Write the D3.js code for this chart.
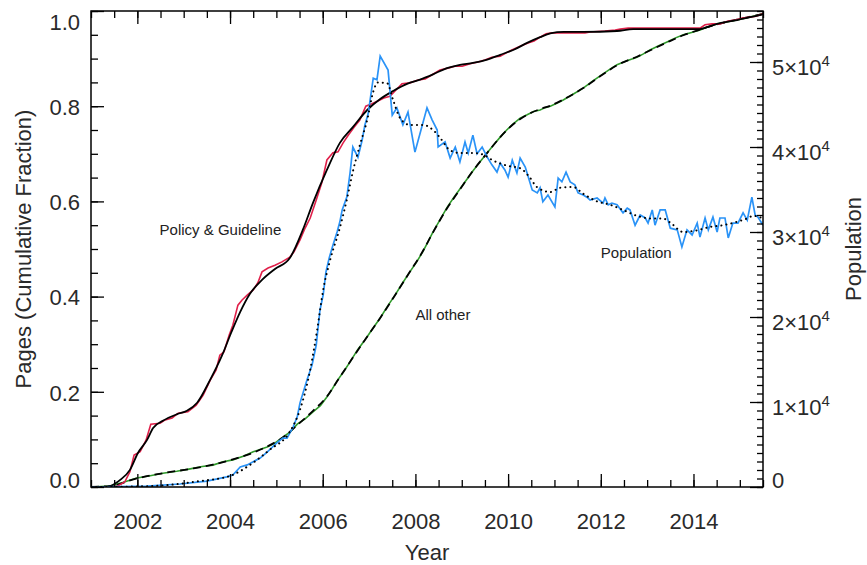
<!DOCTYPE html>
<html><head><meta charset="utf-8">
<script src="https://cdn.jsdelivr.net/npm/d3@7"></script>
<style>
body{margin:0;background:#fff;}
svg{display:block;font-family:"Liberation Sans",Arial,Helvetica,sans-serif;}
</style></head><body>
<svg id="chart" width="867" height="565"></svg>
<script>
// ---- data (year, value) ----
const policyRaw = [[2001.00,0],[2001.41,0],[2001.58,0.002],[2001.73,0.011],[2001.84,0.032],[2001.93,0.067],[2002.06,0.074],[2002.19,0.099],[2002.29,0.132],[2002.49,0.134],[2002.60,0.141],[2002.75,0.145],[2002.88,0.155],[2003.09,0.158],[2003.27,0.172],[2003.42,0.193],[2003.57,0.224],[2003.70,0.246],[2003.78,0.277],[2003.87,0.284],[2003.98,0.319],[2004.06,0.340],[2004.17,0.382],[2004.26,0.393],[2004.37,0.403],[2004.50,0.414],[2004.60,0.429],[2004.69,0.452],[2004.82,0.460],[2004.97,0.466],[2005.12,0.473],[2005.29,0.483],[2005.38,0.494],[2005.51,0.519],[2005.62,0.544],[2005.73,0.565],[2005.86,0.603],[2005.98,0.639],[2006.09,0.687],[2006.22,0.702],[2006.33,0.704],[2006.44,0.723],[2006.55,0.739],[2006.68,0.756],[2006.80,0.771],[2006.93,0.800],[2007.06,0.805],[2007.19,0.811],[2007.32,0.817],[2007.45,0.821],[2007.58,0.834],[2007.71,0.847],[2007.88,0.849],[2008.06,0.855],[2008.21,0.857],[2008.36,0.866],[2008.53,0.876],[2008.70,0.880],[2008.85,0.884],[2009.01,0.884],[2009.18,0.889],[2009.35,0.893],[2009.50,0.897],[2009.65,0.903],[2009.83,0.905],[2009.96,0.912],[2010.08,0.918],[2010.26,0.926],[2010.43,0.933],[2010.56,0.937],[2010.69,0.945],[2010.82,0.952],[2010.95,0.954],[2011.12,0.954],[2011.44,0.954],[2011.66,0.954],[2011.77,0.956],[2012.09,0.958],[2012.31,0.960],[2012.42,0.962],[2012.59,0.964],[2012.85,0.964],[2013.28,0.964],[2013.71,0.964],[2014.14,0.964],[2014.25,0.971],[2014.40,0.973],[2014.57,0.973],[2014.75,0.979],[2014.90,0.981],[2015.05,0.985],[2015.20,0.987],[2015.35,0.989],[2015.50,0.994]];

const policyFit = [[2001.00,0],[2001.30,0],[2001.41,0.002],[2001.63,0.015],[2001.84,0.036],[2002.01,0.071],[2002.21,0.099],[2002.34,0.124],[2002.55,0.139],[2002.86,0.153],[2003.07,0.160],[2003.29,0.177],[2003.57,0.225],[2003.83,0.277],[2004.02,0.323],[2004.22,0.368],[2004.43,0.406],[2004.69,0.435],[2004.97,0.458],[2005.29,0.481],[2005.57,0.540],[2005.79,0.597],[2006.09,0.666],[2006.37,0.723],[2006.65,0.756],[2006.96,0.792],[2007.24,0.815],[2007.52,0.832],[2007.82,0.847],[2008.10,0.856],[2008.38,0.867],[2008.68,0.880],[2008.96,0.887],[2009.24,0.891],[2009.55,0.898],[2009.83,0.908],[2010.11,0.918],[2010.41,0.933],[2010.69,0.945],[2010.91,0.953],[2011.20,0.956],[2011.62,0.956],[2012.35,0.958],[2012.70,0.962],[2013.50,0.962],[2014.14,0.962],[2014.29,0.966],[2014.51,0.973],[2014.94,0.981],[2015.22,0.987],[2015.50,0.993]];

const otherRaw = [[2001.00,0],[2001.41,0.002],[2001.70,0.010],[2001.99,0.019],[2002.25,0.023],[2002.55,0.029],[2002.85,0.033],[2003.14,0.038],[2003.40,0.043],[2003.63,0.046],[2003.85,0.053],[2004.06,0.057],[2004.30,0.065],[2004.50,0.074],[2004.80,0.084],[2004.98,0.093],[2005.14,0.105],[2005.30,0.116],[2005.45,0.132],[2005.62,0.143],[2005.79,0.158],[2005.95,0.171],[2006.09,0.189],[2006.20,0.205],[2006.31,0.223],[2006.45,0.242],[2006.59,0.263],[2006.75,0.288],[2006.91,0.309],[2007.08,0.333],[2007.24,0.355],[2007.40,0.380],[2007.56,0.403],[2007.72,0.428],[2007.88,0.452],[2008.02,0.472],[2008.14,0.491],[2008.26,0.513],[2008.38,0.536],[2008.53,0.561],[2008.68,0.587],[2008.82,0.607],[2008.96,0.626],[2009.10,0.645],[2009.24,0.664],[2009.40,0.684],[2009.55,0.702],[2009.69,0.719],[2009.83,0.735],[2009.97,0.750],[2010.11,0.763],[2010.26,0.775],[2010.41,0.782],[2010.55,0.789],[2010.69,0.792],[2010.80,0.797],[2010.91,0.800],[2011.05,0.806],[2011.19,0.813],[2011.40,0.825],[2011.62,0.838],[2011.83,0.853],[2012.05,0.868],[2012.20,0.878],[2012.35,0.887],[2012.55,0.895],[2012.78,0.903],[2012.92,0.910],[2013.06,0.918],[2013.25,0.927],[2013.43,0.935],[2013.60,0.943],[2013.78,0.950],[2013.96,0.955],[2014.14,0.960],[2014.32,0.967],[2014.51,0.973],[2014.72,0.977],[2014.94,0.981],[2015.20,0.987],[2015.50,0.994]];

const otherFit = [[2001.00,0],[2001.41,0.002],[2001.99,0.018],[2002.55,0.029],[2003.14,0.038],[2003.63,0.047],[2004.06,0.058],[2004.50,0.072],[2004.80,0.085],[2005.14,0.104],[2005.45,0.130],[2005.79,0.160],[2006.09,0.190],[2006.31,0.222],[2006.59,0.263],[2006.91,0.309],[2007.24,0.355],[2007.56,0.403],[2007.88,0.452],[2008.14,0.492],[2008.38,0.535],[2008.68,0.585],[2008.96,0.625],[2009.24,0.664],[2009.55,0.702],[2009.83,0.735],[2010.11,0.762],[2010.41,0.782],[2010.69,0.794],[2010.91,0.801],[2011.19,0.814],[2011.62,0.838],[2012.05,0.867],[2012.35,0.886],[2012.78,0.904],[2013.06,0.917],[2013.43,0.934],[2013.78,0.949],[2014.14,0.961],[2014.51,0.972],[2014.94,0.982],[2015.50,0.994]];

const populationRaw = [[2001.00,0],[2002.21,100],[2002.92,350],[2003.50,700],[2003.93,1200],[2004.06,1400],[2004.22,2350],[2004.37,2600],[2004.65,3400],[2004.80,4100],[2005.01,5200],[2005.14,5750],[2005.23,5750],[2005.36,7050],[2005.45,8250],[2005.51,9900],[2005.66,12600],[2005.77,14350],[2005.86,16700],[2005.94,20800],[2006.01,22600],[2006.07,25300],[2006.14,26950],[2006.22,28450],[2006.31,30000],[2006.37,31200],[2006.42,32600],[2006.52,34100],[2006.59,36950],[2006.65,40000],[2006.76,38800],[2006.85,40800],[2006.91,42600],[2006.98,43900],[2007.09,48100],[2007.17,47900],[2007.24,50700],[2007.41,49050],[2007.50,43750],[2007.60,44600],[2007.73,42600],[2007.84,44100],[2007.99,39400],[2008.12,42000],[2008.25,44600],[2008.36,43200],[2008.47,42000],[2008.49,40000],[2008.64,40600],[2008.75,38700],[2008.86,40000],[2008.96,38250],[2009.07,40600],[2009.14,39300],[2009.24,41400],[2009.33,39200],[2009.44,40000],[2009.55,38800],[2009.65,37900],[2009.76,37050],[2009.83,38100],[2009.93,37300],[2010.00,36450],[2010.09,38450],[2010.19,36950],[2010.26,38700],[2010.37,37650],[2010.52,34950],[2010.63,34600],[2010.69,35200],[2010.75,33550],[2010.86,34350],[2011.01,32950],[2011.08,36350],[2011.16,35900],[2011.25,37050],[2011.34,35900],[2011.44,35550],[2011.51,34600],[2011.62,34350],[2011.70,34100],[2011.77,33750],[2011.92,34000],[2012.05,33400],[2012.09,34000],[2012.16,33200],[2012.24,33400],[2012.35,33200],[2012.48,32250],[2012.57,32800],[2012.63,32600],[2012.74,30800],[2012.85,32000],[2012.96,31650],[2013.02,31050],[2013.11,32600],[2013.17,30800],[2013.28,32600],[2013.39,32600],[2013.50,30450],[2013.65,30250],[2013.75,28250],[2013.86,30250],[2013.97,29650],[2014.08,31050],[2014.14,29400],[2014.25,31650],[2014.32,30250],[2014.42,31750],[2014.51,30000],[2014.57,31650],[2014.68,31650],[2014.75,29300],[2014.85,31050],[2014.96,31050],[2015.07,32250],[2015.16,31400],[2015.26,34100],[2015.33,32000],[2015.39,31750],[2015.50,30800]];

const populationFit = [[2001.00,0],[2002.27,100],[2003.35,700],[2004.00,1300],[2004.43,2600],[2004.86,4400],[2005.29,6500],[2005.51,9100],[2005.73,13800],[2005.88,18500],[2006.01,23200],[2006.16,26700],[2006.37,30500],[2006.52,33800],[2006.65,37100],[2006.80,40200],[2006.96,43200],[2007.09,46500],[2007.19,47600],[2007.39,47500],[2007.52,45500],[2007.67,43400],[2007.88,42600],[2008.16,42600],[2008.38,42000],[2008.53,41100],[2008.75,39600],[2008.96,39300],[2009.24,39300],[2009.46,39100],[2009.68,38400],[2009.98,37800],[2010.26,37500],[2010.47,36400],[2010.62,35300],[2010.91,34700],[2011.12,35200],[2011.40,35300],[2011.62,34500],[2011.92,33600],[2012.20,33200],[2012.48,32600],[2012.78,31900],[2013.07,31600],[2013.34,31600],[2013.50,31100],[2013.78,30000],[2014.08,30200],[2014.36,30600],[2014.64,30800],[2014.94,31200],[2015.16,31600],[2015.29,31900],[2015.50,31600]];

const xMajorTicks = [2002,2004,2006,2008,2010,2012,2014];
const xMinorTicks = d3.range(2001,2015.51,0.5);
const yLeftTicks = [0,0.2,0.4,0.6,0.8,1.0];
const yLeftMinor = d3.range(0,1.001,0.05);
const yRightTicks = [0,10000,20000,30000,40000,50000];
const yRightMinor = d3.range(0,56001,1000);

// ---- layout ----
const M = {left:91,right:763,top:11,bottom:487};
const svg = d3.select("#chart");
const x = d3.scaleLinear().domain([2001,2015.5]).range([M.left,M.right]);
const yL = d3.scaleLinear().domain([0,1]).range([M.bottom,M.top]);
const yR = d3.scaleLinear().domain([0,56000]).range([M.bottom,M.top]);

svg.append("clipPath").attr("id","clip").append("rect")
  .attr("x",M.left).attr("y",M.top-2).attr("width",M.right-M.left).attr("height",M.bottom-M.top+2);

const gLines = svg.append("g").attr("clip-path","url(#clip)");
const lineL = d3.line().x(d=>x(d[0])).y(d=>yL(d[1]));
const lineLs = d3.line().x(d=>x(d[0])).y(d=>yL(d[1])).curve(d3.curveMonotoneX);
const lineR = d3.line().x(d=>x(d[0])).y(d=>yR(d[1]));
const lineRs = d3.line().x(d=>x(d[0])).y(d=>yR(d[1])).curve(d3.curveMonotoneX);

gLines.append("path").attr("d",lineL(otherRaw)).attr("fill","none").attr("stroke","#2f9a2a").attr("stroke-width",1.6);
gLines.append("path").attr("d",lineLs(otherFit)).attr("fill","none").attr("stroke","#000").attr("stroke-width",1.8).attr("stroke-dasharray","8,5");
gLines.append("path").attr("d",lineL(policyRaw)).attr("fill","none").attr("stroke","#e0204a").attr("stroke-width",1.6);
gLines.append("path").attr("d",lineLs(policyFit)).attr("fill","none").attr("stroke","#000").attr("stroke-width",1.8);
gLines.append("path").attr("d",lineR(populationRaw)).attr("fill","none").attr("stroke","#2a93f7").attr("stroke-width",1.7);
gLines.append("path").attr("d",lineRs(populationFit)).attr("fill","none").attr("stroke","#000").attr("stroke-width",2)
  .attr("stroke-dasharray","0.1,5").attr("stroke-linecap","round");

// ---- axes ----
const txtCol = "#2a2a2a";
function styleAxis(g){
  g.select(".domain").remove();
  g.selectAll(".tick line").attr("stroke","#000").attr("stroke-width",1.3);
  g.selectAll("text").attr("font-size",22).attr("fill",txtCol).attr("font-family","'Liberation Sans',Arial,sans-serif");
}
// bottom
svg.append("g").attr("transform",`translate(0,${M.bottom})`)
  .call(d3.axisBottom(x).tickValues(xMinorTicks).tickSize(-7).tickFormat("")).call(styleAxis);
svg.append("g").attr("transform",`translate(0,${M.bottom})`)
  .call(d3.axisBottom(x).tickValues(xMajorTicks).tickSize(-13).tickPadding(26).tickFormat(d3.format("d"))).call(styleAxis);
// top
svg.append("g").attr("transform",`translate(0,${M.top})`)
  .call(d3.axisTop(x).tickValues(xMinorTicks).tickSize(-7).tickFormat("")).call(styleAxis);
svg.append("g").attr("transform",`translate(0,${M.top})`)
  .call(d3.axisTop(x).tickValues(xMajorTicks).tickSize(-13).tickFormat("")).call(styleAxis);
// left
svg.append("g").attr("transform",`translate(${M.left},0)`)
  .call(d3.axisLeft(yL).tickValues(yLeftMinor).tickSize(-7).tickFormat("")).call(styleAxis);
const gLeft = svg.append("g").attr("transform",`translate(${M.left},0)`)
  .call(d3.axisLeft(yL).tickValues(yLeftTicks).tickSize(-13).tickPadding(11).tickFormat(d3.format(".1f"))).call(styleAxis);
gLeft.selectAll(".tick text").attr("dy",d=> d===1 ? "0.86em" : d===0 ? "0.03em" : "0.38em");
// right
svg.append("g").attr("transform",`translate(${M.right},0)`)
  .call(d3.axisRight(yR).tickValues(yRightMinor).tickSize(-6).tickFormat("")).call(styleAxis);
const gRight = svg.append("g").attr("transform",`translate(${M.right},0)`)
  .call(d3.axisRight(yR).tickValues(yRightTicks).tickSize(-13).tickPadding(9).tickFormat("")).call(styleAxis);
gRight.selectAll(".tick text").each(function(d){
  const t = d3.select(this).attr("dy", d===0 ? "0.03em" : "0.58em");
  if(d===0){ t.text("0"); return; }
  t.append("tspan").text((d/10000)+"\u00d710");
  t.append("tspan").attr("dy","-0.6em").attr("font-size",15).text("4");
});

// frame
svg.append("rect").attr("x",M.left).attr("y",M.top).attr("width",M.right-M.left).attr("height",M.bottom-M.top)
  .attr("fill","none").attr("stroke","#000").attr("stroke-width",1.5);

// titles
svg.append("text").attr("x",(M.left+M.right)/2).attr("y",560).attr("text-anchor","middle")
  .attr("font-size",22).attr("fill",txtCol).text("Year");
svg.append("text").attr("transform",`translate(31,${(M.top+M.bottom)/2}) rotate(-90)`).attr("text-anchor","middle")
  .attr("font-size",22).attr("fill",txtCol).text("Pages (Cumulative Fraction)");
svg.append("text").attr("transform",`translate(861,${(M.top+M.bottom)/2}) rotate(-90)`).attr("text-anchor","middle")
  .attr("font-size",22).attr("fill",txtCol).text("Population");

// annotations
svg.append("text").attr("x",x(2002.48)).attr("y",yL(0.53)).attr("font-size",15).attr("fill","#222").text("Policy & Guideline");
svg.append("text").attr("x",x(2008.0)).attr("y",yL(0.35)).attr("font-size",15).attr("fill","#222").text("All other");
svg.append("text").attr("x",x(2012.0)).attr("y",yR(26900)).attr("font-size",15).attr("fill","#222").text("Population");
</script>
</body></html>
